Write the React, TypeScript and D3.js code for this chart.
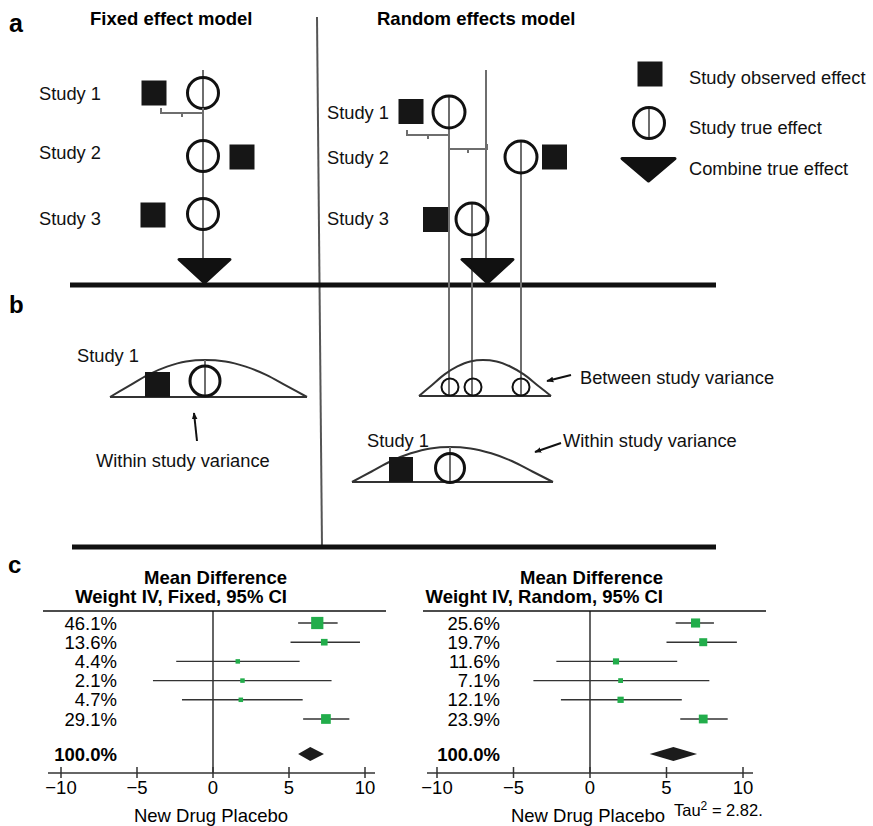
import React from 'react';
import * as d3 from 'd3';

// ---------- data ----------
const studyLabels = ['Study 1', 'Study 2', 'Study 3'];
const legendLabels = ['Study observed effect', 'Study true effect', 'Combine true effect'];
const panelLetters = ['a', 'b', 'c'];
const modelTitles = ['Fixed effect model', 'Random effects model'];
const varianceLabels = ['Within study variance', 'Between study variance'];

const tickValues = [-10, -5, 0, 5, 10];

const fixedWeights = [46.1, 13.6, 4.4, 2.1, 4.7, 29.1];
const fixedMean = [6.86, 7.32, 1.63, 1.94, 1.83, 7.43];
const fixedLower = [5.6, 5.1, -2.42, -3.95, -2.04, 5.93];
const fixedUpper = [8.2, 9.67, 5.7, 7.8, 5.9, 8.97];
const fixedPooled = [5.6, 6.4, 7.3]; // lower, mean, upper

const randomWeights = [25.6, 19.7, 11.6, 7.1, 12.1, 23.9];
const randomMean = [6.9, 7.4, 1.7, 2.0, 2.0, 7.4];
const randomLower = [5.6, 5.0, -2.2, -3.7, -1.9, 5.9];
const randomUpper = [8.1, 9.6, 5.7, 7.8, 6.0, 9.0];
const randomPooled = [3.9, 5.45, 7.0];

const totalWeight = 100.0;
const tau2 = 2.82;

// normalised bell-curve outline (t from -1..1, relative height)
const bellProfile: [number, number][] = [
  [-1, 0], [-0.8, 0.3], [-0.6, 0.6], [-0.4, 0.82], [-0.2, 0.96], [0, 1],
  [0.2, 0.96], [0.4, 0.82], [0.6, 0.6], [0.8, 0.3], [1, 0],
];

// ---------- helpers ----------
const FONT = '"Liberation Sans", Arial, Helvetica, sans-serif';
const GRAY = '#6e6e6e';
const GREEN = '#22ad4b';

function bellPath(x0: number, xp: number, x1: number, base: number, h: number) {
  const pts = bellProfile.map(([t, p]) => [t < 0 ? xp + t * (xp - x0) : xp + t * (x1 - xp), base - p * h] as [number, number]);
  return d3.line().curve(d3.curveMonotoneX)(pts) || '';
}

function Bracket({ x0, x1, y }: { x0: number; x1: number; y: number }) {
  const mid = (x0 + x1) / 2;
  return (
    <path d={`M${x0},${y - 5}L${x0},${y}L${x1},${y}L${x1},${y - 5}M${mid},${y}L${mid},${y + 4}`}
      fill="none" stroke={GRAY} strokeWidth={2} />
  );
}

function Tri({ x0, x1, top, apex }: { x0: number; x1: number; top: number; apex: number }) {
  const m = (x0 + x1) / 2;
  return <path d={`M${x0 + 2},${top + 1.5}L${x1 - 2},${top + 1.5}L${m},${apex - 2}Z`} fill="#111" stroke="#111" strokeWidth={3} strokeLinejoin="round" />;
}

function Sq({ cx, cy, s }: { cx: number; cy: number; s: number }) {
  return <rect x={cx - s / 2} y={cy - s / 2} width={s} height={s} fill="#161616" />;
}

function Circ({ cx, cy, r, w = 3 }: { cx: number; cy: number; r: number; w?: number }) {
  return <circle cx={cx} cy={cy} r={r} fill="none" stroke="#111" strokeWidth={w} />;
}

type ForestProps = {
  range: [number, number];
  axisExt: [number, number];
  ruleExt: [number, number];
  labelX: number;
  titleX: number;
  subtitle: string;
  weights: number[];
  mean: number[];
  lower: number[];
  upper: number[];
  pooled: number[];
  tau?: number;
};

function Forest(p: ForestProps) {
  const x = d3.scaleLinear().domain([-10, 10]).range(p.range);
  const y = d3.scalePoint<number>().domain(d3.range(p.weights.length)).range([623, 719]);
  const sq = d3.scaleSqrt().domain([0, 100]).range([0, 18]);
  const size = (w: number) => Math.max(4.5, sq(w));
  const fmt = d3.format('.1f');
  const axisY = 773;
  const totalY = 754;
  return (
    <g fontFamily={FONT}>
      <text x={p.titleX} y={584} textAnchor="end" fontWeight="bold" fontSize={18.5}>Mean Difference</text>
      <text x={p.titleX} y={603} textAnchor="end" fontWeight="bold" fontSize={18.5}>{p.subtitle}</text>
      <line x1={p.ruleExt[0]} x2={p.ruleExt[1]} y1={611} y2={611} stroke="#111" strokeWidth={1.5} />
      <line x1={x(0)} x2={x(0)} y1={611} y2={axisY} stroke="#111" strokeWidth={1.3} />
      {p.weights.map((w, i) => (
        <g key={i}>
          <text x={p.labelX} y={y(i)!} dy="0.36em" textAnchor="end" fontSize={18.5}>{fmt(w)}%</text>
          <line x1={x(p.lower[i])} x2={x(p.upper[i])} y1={y(i)!} y2={y(i)!} stroke="#333" strokeWidth={1.4} />
          <rect x={x(p.mean[i]) - size(w) / 2} y={y(i)! - size(w) / 2} width={size(w)} height={size(w)} fill={GREEN} />
        </g>
      ))}
      <text x={p.labelX} y={totalY} dy="0.36em" textAnchor="end" fontSize={18.5} fontWeight="bold">{fmt(totalWeight)}%</text>
      <path d={`M${x(p.pooled[0])},${totalY}L${x(p.pooled[1])},${totalY - 7}L${x(p.pooled[2])},${totalY}L${x(p.pooled[1])},${totalY + 7}Z`} fill="#1c1c1c" />
      <line x1={p.axisExt[0]} x2={p.axisExt[1]} y1={axisY} y2={axisY} stroke="#333" strokeWidth={1.5} />
      {tickValues.map(t => (
        <g key={t}>
          <line x1={x(t)} x2={x(t)} y1={axisY - 6} y2={axisY + 5} stroke="#333" strokeWidth={1.5} />
          <text x={x(t)} y={787} dy="0.36em" textAnchor="middle" fontSize={18.5}>{t < 0 ? '\u2212' + Math.abs(t) : t}</text>
        </g>
      ))}
      <text x={x(0) - 2} y={815} dy="0.36em" textAnchor="middle" fontSize={18.5}>New Drug Placebo</text>
      {p.tau !== undefined && (
        <text x={674} y={816} fontSize={16.5}>Tau<tspan dy={-6} fontSize={12}>2</tspan><tspan dy={6}> = {p.tau}.</tspan></text>
      )}
    </g>
  );
}

export default function App() {
  const txt = { fontFamily: FONT, fontSize: 18.3, fill: '#111' } as const;
  return (
    <svg width={873} height={826} style={{ position: 'absolute', left: 0, top: 0, background: '#fff' }}>
      <defs>
        <marker id="ah" viewBox="0 0 10 10" refX={9} refY={5} markerWidth={7} markerHeight={7} orient="auto-start-reverse" markerUnits="userSpaceOnUse">
          <path d="M0,1L10,5L0,9Z" fill="#111" />
        </marker>
      </defs>
      <rect width={873} height={826} fill="#fff" />

      {/* panel letters */}
      <text x={9} y={32} fontFamily={FONT} fontWeight="bold" fontSize={25}>{panelLetters[0]}</text>
      <text x={9} y={313} fontFamily={FONT} fontWeight="bold" fontSize={24}>{panelLetters[1]}</text>
      <text x={8} y={573} fontFamily={FONT} fontWeight="bold" fontSize={24}>{panelLetters[2]}</text>

      {/* titles */}
      <text x={90} y={25} fontFamily={FONT} fontWeight="bold" fontSize={18.5}>{modelTitles[0]}</text>
      <text x={377} y={25} fontFamily={FONT} fontWeight="bold" fontSize={18.5}>{modelTitles[1]}</text>

      {/* frame */}
      <line x1={317} y1={17} x2={322} y2={548} stroke="#555" strokeWidth={2} />
      <line x1={70} x2={716} y1={285} y2={285} stroke="#111" strokeWidth={5} />
      <line x1={72} x2={716} y1={547} y2={547} stroke="#111" strokeWidth={5} />

      {/* ---- fixed effect model ---- */}
      <line x1={203} x2={203} y1={70} y2={283} stroke={GRAY} strokeWidth={2} />
      <text {...txt} x={39} y={93} dy="0.36em">{studyLabels[0]}</text>
      <text {...txt} x={39} y={152} dy="0.36em">{studyLabels[1]}</text>
      <text {...txt} x={39} y={218} dy="0.36em">{studyLabels[2]}</text>
      <Sq cx={154} cy={93} s={25} />
      <Circ cx={203} cy={93} r={15.5} />
      <Bracket x0={161} x1={203} y={113} />
      <Circ cx={203} cy={156} r={15.5} />
      <Sq cx={242} cy={157} s={25} />
      <Sq cx={153} cy={215} s={25} />
      <Circ cx={203} cy={214} r={15.5} />
      <Tri x0={177} x1={232} top={258} apex={285} />

      {/* ---- random effects model ---- */}
      <line x1={486} x2={486} y1={70} y2={262} stroke={GRAY} strokeWidth={2} />
      <line x1={449} x2={449} y1={96} y2={396} stroke={GRAY} strokeWidth={2} />
      <line x1={521} x2={521} y1={141} y2={396} stroke={GRAY} strokeWidth={2} />
      <line x1={472} x2={472} y1={203} y2={396} stroke={GRAY} strokeWidth={2} />
      <text {...txt} x={327} y={112} dy="0.36em">{studyLabels[0]}</text>
      <text {...txt} x={327} y={157} dy="0.36em">{studyLabels[1]}</text>
      <text {...txt} x={327} y={218} dy="0.36em">{studyLabels[2]}</text>
      <Sq cx={411} cy={111.5} s={25} />
      <Circ cx={449} cy={112} r={16} />
      <Bracket x0={407} x1={449} y={135} />
      <Bracket x0={449} x1={487} y={149} />
      <Circ cx={521} cy={157} r={16} />
      <Sq cx={554.5} cy={157} s={25} />
      <Sq cx={435.5} cy={219.5} s={25} />
      <Circ cx={472} cy={219} r={16} />
      <Tri x0={460} x1={515} top={258} apex={285} />

      {/* ---- legend ---- */}
      <Sq cx={650} cy={74} s={25} />
      <line x1={649} x2={649} y1={108} y2={138} stroke={GRAY} strokeWidth={2} />
      <Circ cx={649} cy={123} r={15.5} />
      <Tri x0={620} x1={677} top={157} apex={183} />
      <text {...txt} x={689} y={77} dy="0.36em">{legendLabels[0]}</text>
      <text {...txt} x={689} y={127} dy="0.36em">{legendLabels[1]}</text>
      <text {...txt} x={689} y={168} dy="0.36em">{legendLabels[2]}</text>

      {/* ---- panel b left ---- */}
      <text {...txt} x={77} y={355} dy="0.36em">{studyLabels[0]}</text>
      <path d={bellPath(110, 205, 307, 397, 37)} fill="none" stroke="#333" strokeWidth={2} />
      <line x1={110} x2={307} y1={397} y2={397} stroke="#333" strokeWidth={2} />
      <rect x={145} y={372} width={25} height={25} fill="#161616" />
      <line x1={205} x2={205} y1={360} y2={397} stroke={GRAY} strokeWidth={2} />
      <Circ cx={205} cy={381} r={15} />
      <line x1={197} y1={441} x2={194} y2={413} stroke="#111" strokeWidth={2} markerEnd="url(#ah)" />
      <text {...txt} x={96} y={460} dy="0.36em">{varianceLabels[0]}</text>

      {/* ---- panel b right ---- */}
      <path d={bellPath(419, 483, 551, 396, 36)} fill="none" stroke="#333" strokeWidth={2} />
      <line x1={419} x2={551} y1={396} y2={396} stroke="#333" strokeWidth={2} />
      <Circ cx={450} cy={387} r={8.5} w={2} />
      <Circ cx={473} cy={387} r={8.5} w={2} />
      <Circ cx={521} cy={387} r={8.5} w={2} />
      <line x1={571} y1={375} x2={547} y2={381} stroke="#111" strokeWidth={2} markerEnd="url(#ah)" />
      <text {...txt} x={580} y={377} dy="0.36em">{varianceLabels[1]}</text>

      <text {...txt} x={367} y={440} dy="0.36em">{studyLabels[0]}</text>
      <path d={bellPath(352, 450, 553, 482, 35)} fill="none" stroke="#333" strokeWidth={2} />
      <line x1={352} x2={553} y1={482} y2={482} stroke="#333" strokeWidth={2} />
      <rect x={389} y={457} width={24} height={25} fill="#161616" />
      <line x1={450} x2={450} y1={447} y2={482} stroke={GRAY} strokeWidth={2} />
      <Circ cx={450} cy={468} r={14.5} />
      <line x1={561} y1={443} x2={535} y2={452} stroke="#111" strokeWidth={2} markerEnd="url(#ah)" />
      <text {...txt} x={563} y={440} dy="0.36em">{varianceLabels[0]}</text>

      {/* ---- panel c ---- */}
      <Forest range={[61, 365]} axisExt={[48, 375]} ruleExt={[43, 386]} labelX={117} titleX={287}
        subtitle="Weight IV, Fixed, 95% CI" weights={fixedWeights} mean={fixedMean} lower={fixedLower}
        upper={fixedUpper} pooled={fixedPooled} />
      <Forest range={[437, 743]} axisExt={[427, 753]} ruleExt={[423, 766]} labelX={500} titleX={663}
        subtitle="Weight IV, Random, 95% CI" weights={randomWeights} mean={randomMean} lower={randomLower}
        upper={randomUpper} pooled={randomPooled} tau={tau2} />
    </svg>
  );
}
